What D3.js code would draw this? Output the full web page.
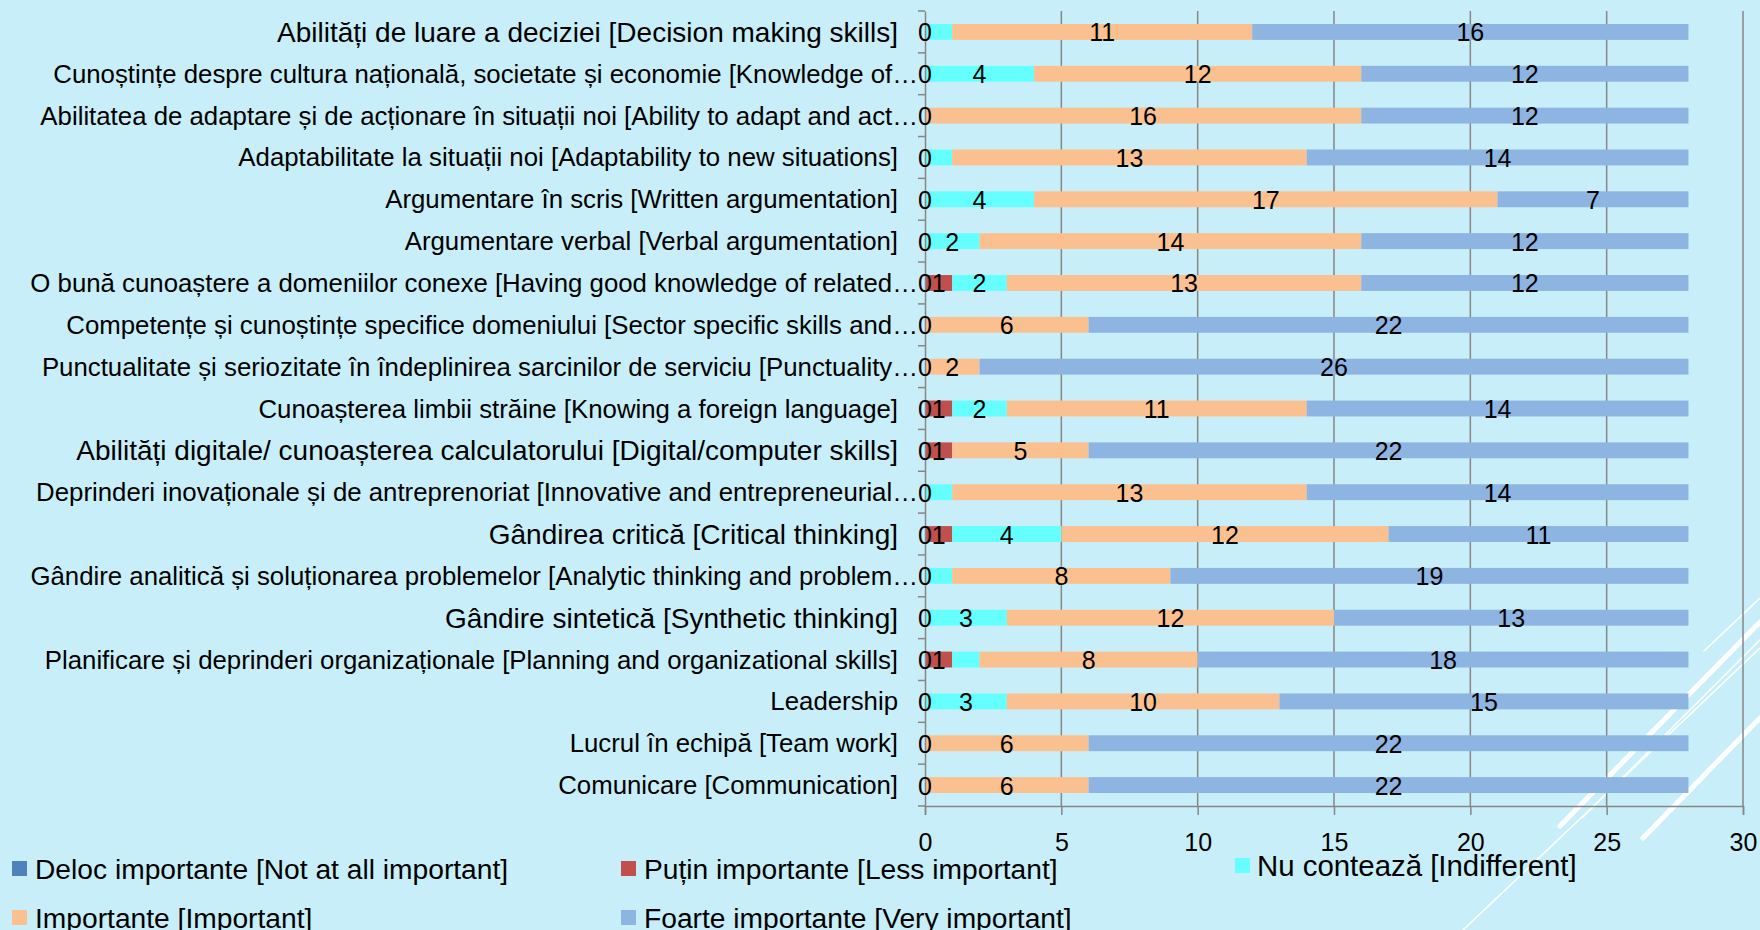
<!DOCTYPE html>
<html>
<head>
<meta charset="utf-8">
<script src="https://cdn.jsdelivr.net/npm/d3@7"></script>
<style>
body { margin: 0; background: #c8eff9; }
svg { display: block; }
</style>
</head>
<body>
<script>
// categories, top to bottom as in the chart
var categories = [
	"Abilități de luare a deciziei [Decision making skills]",
	"Cunoștințe despre cultura națională, societate și economie [Knowledge of…",
	"Abilitatea de adaptare și de acționare în situații noi [Ability to adapt and act…",
	"Adaptabilitate la situații noi [Adaptability to new situations]",
	"Argumentare în scris [Written argumentation]",
	"Argumentare verbal [Verbal argumentation]",
	"O bună cunoaștere a domeniilor conexe [Having good knowledge of related…",
	"Competențe și cunoștințe specifice domeniului [Sector specific skills and…",
	"Punctualitate și seriozitate în îndeplinirea sarcinilor de serviciu [Punctuality…",
	"Cunoașterea limbii străine [Knowing a foreign language]",
	"Abilități digitale/ cunoașterea calculatorului [Digital/computer skills]",
	"Deprinderi inovaționale și de antreprenoriat [Innovative and entrepreneurial…",
	"Gândirea critică [Critical thinking]",
	"Gândire analitică și soluționarea problemelor [Analytic thinking and problem…",
	"Gândire sintetică [Synthetic thinking]",
	"Planificare și deprinderi organizaționale [Planning and organizational skills]",
	"Leadership",
	"Lucrul în echipă [Team work]",
	"Comunicare [Communication]"
];

// these few labels were typed in another font in the original
var arialCategories = [
	"Abilități de luare a deciziei [Decision making skills]",
	"Abilități digitale/ cunoașterea calculatorului [Digital/computer skills]",
	"Gândirea critică [Critical thinking]",
	"Gândire sintetică [Synthetic thinking]"
];

var seriesNames = [
	"Deloc importante [Not at all important]",
	"Puțin importante [Less important]",
	"Nu contează [Indifferent]",
	"Importante [Important]",
	"Foarte importante [Very important]"
];
var seriesColors = ["#4f81bd", "#c0504d", "#66ffff", "#fac090", "#8eb4e2"];

var notAtAll   = [0,0,0,0,0,0,0,0,0,0,0,0,0,0,0,0,0,0,0];
var less       = [0,0,0,0,0,0,1,0,0,1,1,0,1,0,0,1,0,0,0];
var indiff     = [1,4,0,1,4,2,2,0,0,2,0,1,4,1,3,1,3,0,0];
var important  = [11,12,16,13,17,14,13,6,2,11,5,13,12,8,12,8,10,6,6];
var veryImp    = [16,12,12,14,7,12,12,22,26,14,22,14,11,19,13,18,15,22,22];

var xTicks = [0, 5, 10, 15, 20, 25, 30];

var seriesValues = [notAtAll, less, indiff, important, veryImp];

var FONT = "'Liberation Sans', Arial, sans-serif";
var gridColor = "#868686";

var W = 1760, H = 930;
var plot = {left: 925, right: 1743, top: 11, bottom: 806};

var svg = d3.select("body").append("svg")
	.attr("width", W)
	.attr("height", H);

svg.append("rect")
	.attr("width", W)
	.attr("height", H)
	.attr("fill", "#c8eff9");

// slide decoration, bottom right
var deco = [
	[1463, 930, 1760, 648, 1.5],
	[1560, 826, 1760, 622, 5],
	[1582, 818, 1760, 640, 1.5],
	[1643, 838, 1760, 718, 5],
	[1704, 651, 1760, 598, 1.5]
];
svg.selectAll(".deco").data(deco).enter().append("line")
	.attr("class", "deco")
	.attr("x1", function(d){ return d[0]; })
	.attr("y1", function(d){ return d[1]; })
	.attr("x2", function(d){ return d[2]; })
	.attr("y2", function(d){ return d[3]; })
	.attr("stroke", "#ffffff")
	.attr("stroke-width", function(d){ return d[4]; })
	.attr("stroke-linecap", "round");

var xScale = d3.scaleLinear().domain([0, 30]).range([plot.left, plot.right]);
var yScale = d3.scaleBand().domain(categories).range([plot.top, plot.bottom]).paddingInner(0.62).paddingOuter(0.31);
var yBand = d3.scaleBand().domain(categories).range([plot.top, plot.bottom]);

// vertical gridlines
svg.selectAll(".grid").data(xTicks.slice(1)).enter().append("line")
	.attr("class", "grid")
	.attr("x1", function(d){ return xScale(d); })
	.attr("x2", function(d){ return xScale(d); })
	.attr("y1", plot.top)
	.attr("y2", plot.bottom)
	.attr("stroke", gridColor)
	.attr("stroke-width", 1.5);

// stacked data
var stack = [];
categories.forEach(function(c, i){
	var acc = 0;
	seriesValues.forEach(function(vals, s){
		stack.push({cat: c, s: s, v: vals[i], x0: acc, x1: acc + vals[i]});
		acc += vals[i];
	});
});

svg.selectAll(".seg").data(stack.filter(function(d){ return d.v > 0; })).enter().append("rect")
	.attr("class", "seg")
	.attr("x", function(d){ return xScale(d.x0); })
	.attr("y", function(d){ return yScale(d.cat); })
	.attr("width", function(d){ return xScale(d.x1) - xScale(d.x0); })
	.attr("height", yScale.bandwidth())
	.attr("fill", function(d){ return seriesColors[d.s]; });

// y axis (category axis)
var yAxis = d3.axisLeft(yBand).tickSize(0).tickFormat("");
svg.append("g")
	.attr("transform", "translate(" + plot.left + ",0)")
	.call(yAxis)
	.call(function(g){ g.select(".domain").attr("stroke", gridColor).attr("stroke-width", 1.5); });

// ticks between categories
var bounds = categories.map(function(c){ return yBand(c); }).concat([plot.bottom]);
svg.selectAll(".ytick").data(bounds).enter().append("line")
	.attr("class", "ytick")
	.attr("x1", plot.left - 7)
	.attr("x2", plot.left)
	.attr("y1", function(d){ return d; })
	.attr("y2", function(d){ return d; })
	.attr("stroke", gridColor)
	.attr("stroke-width", 1.5);

// x axis
var xAxis = d3.axisBottom(xScale).tickValues(xTicks).tickSize(9).tickPadding(18);
var gx = svg.append("g")
	.attr("transform", "translate(0," + plot.bottom + ")")
	.call(xAxis);
gx.select(".domain").attr("stroke", gridColor).attr("stroke-width", 1.5);
gx.selectAll(".tick line").attr("stroke", gridColor).attr("stroke-width", 1.5);
gx.selectAll(".tick text")
	.attr("fill", "#000")
	.attr("font-family", FONT)
	.attr("font-size", 25);

// category labels
svg.selectAll(".catlab").data(categories).enter().append("text")
	.attr("class", "catlab")
	.attr("x", function(d){ return d.slice(-1) === "…" ? plot.left - 7 : plot.left - 27; })
	.attr("y", function(d){ return yBand(d) + yBand.bandwidth() / 2; })
	.attr("dy", "0.35em")
	.attr("text-anchor", "end")
	.attr("font-family", FONT)
	.attr("font-size", function(d){ return arialCategories.indexOf(d) >= 0 ? 28 : 25.8; })
	.attr("fill", "#000")
	.text(function(d){ return d; });

// value labels: zeros only shown for the first series, single "Nu contează" answers were not labelled
var labelled = stack.filter(function(d){
	if (d.v === 0) return d.s === 0;
	if (d.s === 2 && d.v === 1) return false;
	return true;
});
svg.selectAll(".vlab").data(labelled).enter().append("text")
	.attr("class", "vlab")
	.attr("x", function(d){ return xScale((d.x0 + d.x1) / 2); })
	.attr("y", function(d){ return yScale(d.cat) + yScale.bandwidth() / 2; })
	.attr("dy", "0.38em")
	.attr("text-anchor", "middle")
	.attr("font-family", FONT)
	.attr("font-size", 25)
	.attr("fill", "#000")
	.text(function(d){ return d.v; });

// legend
var legendPos = [
	{x: 12, y: 869},
	{x: 621, y: 869},
	{x: 1235, y: 866},
	{x: 12, y: 918},
	{x: 621, y: 918}
];
var leg = svg.selectAll(".leg").data(seriesNames).enter().append("g")
	.attr("class", "leg")
	.attr("transform", function(d, i){ return "translate(" + legendPos[i].x + "," + legendPos[i].y + ")"; });
leg.append("rect")
	.attr("x", 0)
	.attr("y", -8)
	.attr("width", 15)
	.attr("height", 15)
	.attr("fill", function(d, i){ return seriesColors[i]; });
leg.append("text")
	.attr("x", function(d, i){ return i === 2 ? 22 : 23; })
	.attr("dy", "0.35em")
	.attr("font-family", FONT)
	.attr("font-size", function(d, i){ return i === 2 ? 29.4 : 28.2; })
	.attr("fill", "#000")
	.text(function(d){ return d; });
</script>
</body>
</html>
